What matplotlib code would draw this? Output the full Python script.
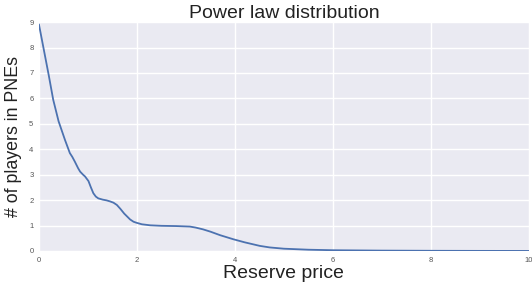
import matplotlib
matplotlib.use("Agg")
import matplotlib.pyplot as plt
import numpy as np

# values
reserve_price = [0.0, 0.1, 0.2, 0.29, 0.4, 0.53, 0.63, 0.68, 0.73, 0.8, 0.84, 0.9, 0.94,
                 1.01, 1.06, 1.11, 1.16, 1.21, 1.3, 1.38, 1.45, 1.52, 1.59, 1.66, 1.74,
                 1.86, 1.93, 1.99, 2.1, 2.27, 2.5, 2.8, 3.08, 3.2, 3.35, 3.5, 3.7, 3.97,
                 4.2, 4.51, 4.71, 5.0, 5.5, 6.0, 7.0, 8.0, 9.0, 10.0]
num_players = [8.9, 7.9, 6.9, 5.95, 5.1, 4.37, 3.85, 3.7, 3.52, 3.25, 3.12, 3.0, 2.93,
               2.75, 2.5, 2.27, 2.14, 2.07, 2.02, 1.99, 1.95, 1.9, 1.81, 1.66, 1.47,
               1.24, 1.15, 1.11, 1.05, 1.01, 0.99, 0.98, 0.96, 0.92, 0.85, 0.76, 0.62, 0.46,
               0.34, 0.2, 0.14, 0.09, 0.05, 0.03, 0.015, 0.008, 0.004, 0.002]

plt.rcParams['font.family'] = ['Liberation Sans', 'DejaVu Sans']

fig = plt.figure(figsize=(5.32, 2.91), dpi=100)
ax = fig.add_axes([0.0733, 0.1375, 0.9207, 0.7865])
ax.set_facecolor('#EAEAF2')
for s in ax.spines.values():
    s.set_visible(False)
ax.grid(True, color='white', linewidth=1.0)
ax.set_axisbelow(True)

ax.plot(reserve_price, num_players, color='#4C72B0', linewidth=1.3)

ax.set_xlim(0, 10)
ax.set_ylim(0, 9)
ax.set_xticks(np.arange(0, 11, 2))
ax.set_yticks(np.arange(0, 10, 1))
ax.tick_params(length=0, labelsize=5.5, labelcolor='#555555', pad=4)

ax.set_title('Power law distribution', fontsize=14, pad=1, color='#222222')
ax.set_xlabel('Reserve price', fontsize=14, labelpad=1, color='#222222')
ax.set_ylabel('# of players in PNEs', fontsize=12.8, labelpad=5, color='#222222')

fig.savefig('out.png', dpi=100)
